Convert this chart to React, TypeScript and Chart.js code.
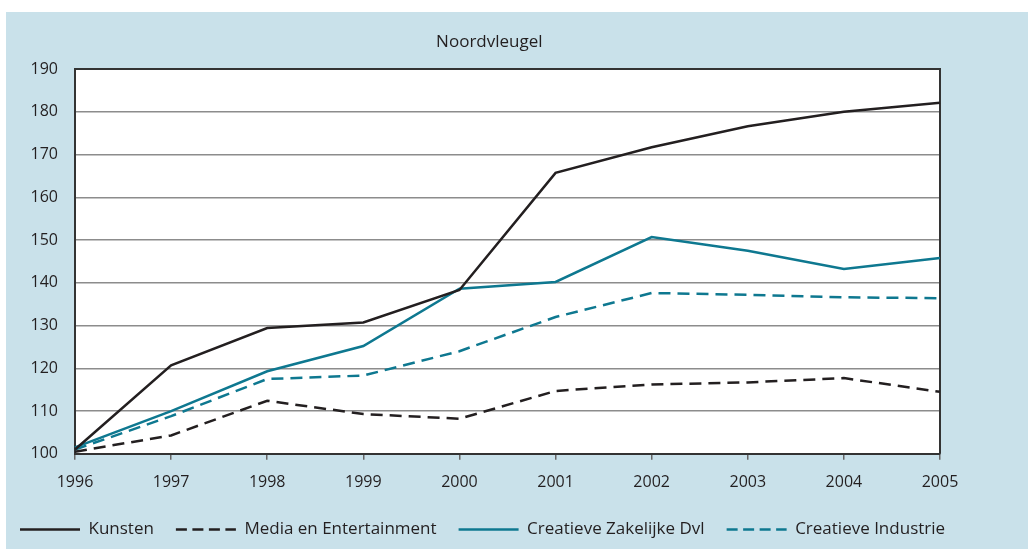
import React, { useEffect, useRef } from "react";
import { Chart, registerables } from "chart.js";

Chart.register(...registerables);

const years = ["1996", "1997", "1998", "1999", "2000", "2001", "2002", "2003", "2004", "2005"];
const kunsten = [101, 120.7, 129.4, 130.7, 138.3, 165.7, 171.7, 176.6, 180.0, 182.1];
const media = [100.5, 104.3, 112.4, 109.3, 108.2, 114.7, 116.2, 116.7, 117.7, 114.5];
const zakelijk = [101.5, 110.0, 119.3, 125.2, 138.6, 140.2, 150.7, 147.5, 143.2, 145.8];
const industrie = [101.0, 108.8, 117.5, 118.3, 124.0, 132.0, 137.6, 137.2, 136.6, 136.4];
const yTicks = [100, 110, 120, 130, 140, 150, 160, 170, 180, 190];
const titleText = "Noordvleugel";

const DARK = "#231f20";
const TEAL = "#0e7890";
const FONT = "'Open Sans', 'Noto Sans', sans-serif";

const plotDecor = {
  id: "plotDecor",
  afterLayout(chart: any) {
    const lg = chart.legend;
    if (lg) {
      lg.top -= 6;
      lg.bottom -= 6;
    }
  },
  beforeDraw(chart: any) {
    const { ctx, chartArea } = chart;
    ctx.save();
    ctx.fillStyle = "#ffffff";
    ctx.fillRect(chartArea.left, chartArea.top, chartArea.right - chartArea.left, chartArea.bottom - chartArea.top);
    ctx.restore();
  },
  beforeDatasetsDraw(chart: any) {
    const { ctx, chartArea } = chart;
    ctx.save();
    ctx.strokeStyle = "#333333";
    ctx.lineWidth = 2;
    ctx.beginPath();
    ctx.moveTo(chartArea.left, chartArea.top);
    ctx.lineTo(chartArea.right, chartArea.top);
    ctx.lineTo(chartArea.right, chartArea.bottom);
    ctx.stroke();
    ctx.restore();
  },
  afterDraw(chart: any) {
    const { ctx, chartArea } = chart;
    ctx.save();
    ctx.fillStyle = DARK;
    ctx.font = `17px ${FONT}`;
    ctx.textAlign = "center";
    ctx.textBaseline = "middle";
    ctx.fillText(titleText, chartArea.left + (chartArea.right - chartArea.left) * 0.479, chartArea.top - 27);
    ctx.restore();
  },
};

export default function App() {
  const ref = useRef<HTMLCanvasElement>(null);
  useEffect(() => {
    if (!ref.current) return;
    const mk = (label: string, data: number[], color: string, dash: number[]) => ({
      label,
      data,
      borderColor: color,
      backgroundColor: color,
      borderWidth: 2.5,
      borderDash: dash,
      pointRadius: 0,
      tension: 0,
      fill: false,
    });
    const chart = new Chart(ref.current, {
      type: "line",
      data: {
        labels: years,
        datasets: [
          mk("Kunsten", kunsten, DARK, []),
          mk("Media en Entertainment", media, DARK, [12, 7]),
          mk("Creatieve Zakelijke Dvl", zakelijk, TEAL, []),
          mk("Creatieve Industrie", industrie, TEAL, [12, 7]),
        ],
      },
      options: {
        animation: false,
        responsive: true,
        maintainAspectRatio: false,
        layout: { padding: { left: -8, right: 0, top: 57, bottom: -5 } },
        plugins: {
          title: { display: false },
          legend: {
            position: "bottom",
            align: "start",
            labels: {
              usePointStyle: true,
              pointStyle: "line",
              pointStyleWidth: 60,
              padding: 22,
              color: DARK,
              font: { family: FONT, size: 17 },
              generateLabels: (ch: any) => {
                const items = Chart.defaults.plugins.legend.labels.generateLabels(ch);
                return items.map((it: any) => {
                  const ds = ch.data.datasets[it.datasetIndex];
                  return {
                    ...it,
                    lineDash: ds.borderDash && ds.borderDash.length ? [11, 5.5] : [],
                    lineWidth: 2.5,
                    strokeStyle: ds.borderColor,
                  };
                });
              },
            },
          },
          tooltip: { enabled: false },
        },
        scales: {
          x: {
            offset: false,
            grid: { drawOnChartArea: false, drawTicks: true, tickLength: 6, color: "#666666", lineWidth: 1.5 },
            border: { color: "#333333", width: 2 },
            ticks: { color: DARK, font: { family: FONT, size: 16 }, padding: 13, maxRotation: 0 },
          },
          y: {
            min: 100,
            max: 190,
            afterBuildTicks: (axis: any) => {
              axis.ticks = yTicks.map((v) => ({ value: v }));
            },
            afterFit: (axis: any) => {
              axis.width = 77;
            },
            grid: { drawTicks: false, color: "#8c8c8c", lineWidth: 1.5 },
            border: { color: "#333333", width: 2 },
            ticks: { color: DARK, font: { family: FONT, size: 16 }, padding: 17 },
          },
          yRight: {
            position: "right",
            min: 100,
            max: 190,
            grid: { display: false, drawTicks: false },
            border: { display: false },
            ticks: { display: false },
            afterFit: (axis: any) => {
              axis.width = 88;
            },
          },
        },
      },
      plugins: [plotDecor],
    } as any);
    return () => chart.destroy();
  }, []);
  return (
    <div style={{ position: "absolute", left: 6, top: 12, width: 1022, height: 537, background: "#c9e1ea" }}>
      <canvas ref={ref} />
    </div>
  );
}
